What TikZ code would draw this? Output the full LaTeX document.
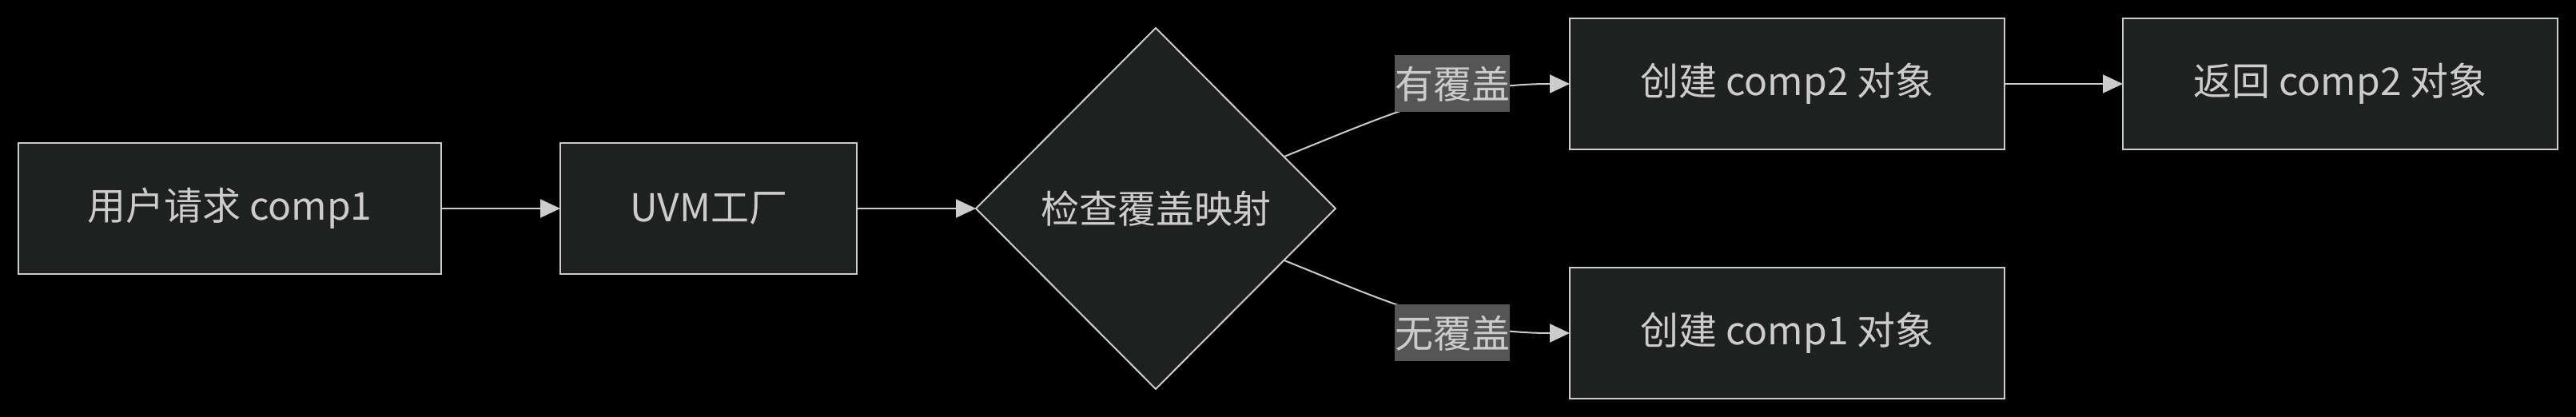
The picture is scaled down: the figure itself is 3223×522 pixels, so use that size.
\documentclass[tikz,border=0pt]{standalone}
\usepackage{fontspec}
\setmainfont{Noto Sans CJK SC}
\usetikzlibrary{shapes.geometric,arrows.meta}
\definecolor{bg}{RGB}{0,0,0}
\definecolor{boxfill}{RGB}{31,32,32}
\definecolor{boxline}{RGB}{204,204,204}
\definecolor{txt}{RGB}{204,204,204}
\definecolor{lblfill}{RGB}{85,85,85}
\tikzset{
  x=0.5pt, y=-0.5pt,
  stepbox/.style={draw=boxline, fill=boxfill, line width=1pt, text=txt,
    minimum height=82pt, inner sep=0pt, outer sep=0pt, font=\fontsize{24pt}{28pt}\selectfont},
  decide/.style={shape=diamond, draw=boxline, fill=boxfill, line width=1pt, text=txt,
    minimum width=225pt, minimum height=226pt, inner sep=0pt, outer sep=0pt,
    font=\fontsize{24pt}{28pt}\selectfont},
  lbl/.style={fill=lblfill, text=txt, inner xsep=0pt, inner ysep=0pt,
    minimum height=35.5pt, font=\fontsize{24pt}{28pt}\selectfont},
  edge/.style={draw=boxline, line width=1pt, -{Triangle[length=12.5pt,width=11.5pt]}},
}
\begin{document}
\begin{tikzpicture}
\fill[bg] (0,0) rectangle (3223,522);
\useasboundingbox (0,0) rectangle (3223,522);
\node[stepbox, minimum width=264.5pt] (a) at (287.5,261) {用户请求 comp1};
\node[stepbox, minimum width=185.5pt] (b) at (886.5,261) {UVM工厂};
\node[decide] (d) at (1446,261) {检查覆盖映射};
\node[stepbox, minimum width=272pt] (c2) at (2236,105) {创建 comp2 对象};
\node[stepbox, minimum width=272pt] (r2) at (2928,105) {返回 comp2 对象};
\node[stepbox, minimum width=272pt] (c1) at (2236,417) {创建 comp1 对象};
\draw[edge] (a.east) -- (b.west);
\draw[edge] (b.east) -- (d.west);
\draw[edge] (c2.east) -- (r2.west);
\draw[edge] (d.22) to[out=22, in=180] (c2.west);
\draw[edge] (d.-22) to[out=-22, in=180] (c1.west);
\node[lbl] (l1) at (1817,105) {有覆盖};
\node[lbl] (l2) at (1817,417) {无覆盖};
\end{tikzpicture}
\end{document}
